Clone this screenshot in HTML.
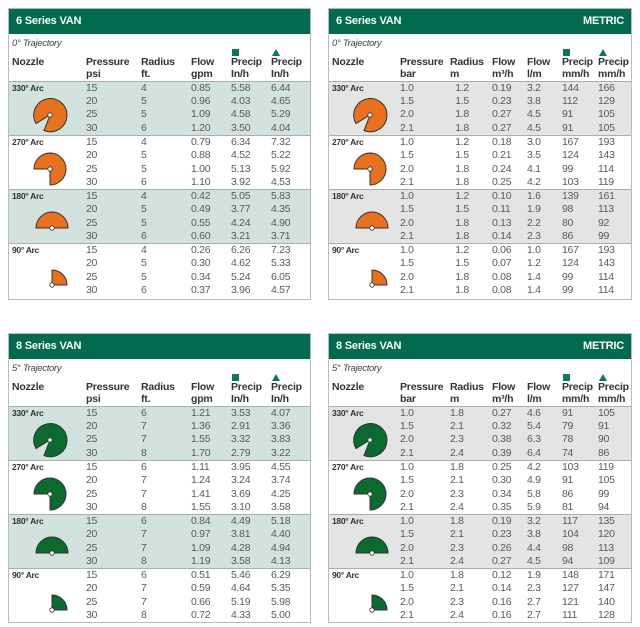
<!DOCTYPE html>
<html><head><meta charset="utf-8">
<style>
*{margin:0;padding:0;box-sizing:border-box}
body{width:640px;height:627px;background:#fff;position:relative;font-family:"Liberation Sans",sans-serif;overflow:hidden}
.p{position:absolute;border:1px solid #b9bcbc;background:#fff}
.hd{height:25px;background:#006b4f;color:#fff;font-weight:bold;font-size:11px;line-height:25px;padding:0 7px;letter-spacing:-0.2px}
.hd span{float:right}
.tr{font-style:italic;font-size:9.5px;color:#444;padding:4px 0 0 3px;height:15px;letter-spacing:-0.3px}
table{border-collapse:collapse;width:100%;table-layout:fixed}
th{font-size:10.5px;color:#333;text-align:left;font-weight:bold;vertical-align:bottom;line-height:12px;padding-bottom:1px;letter-spacing:-0.2px;position:relative}
td{font-size:10.5px;color:#5a5a5a;height:13.55px;line-height:13px;padding:0;vertical-align:middle;letter-spacing:-0.3px}
td.nz{vertical-align:top;font-size:8.5px;font-weight:bold;color:#333;padding-left:3px;position:relative}
td.nz svg{position:absolute}
tr.s td{background:#d2e3df}
.m tr.s td{background:#e3e5e5}
tbody.g tr:first-child td{border-top:1px solid #a9b0ae}
th.n{padding-left:3px;padding-bottom:13px}
.sq{position:absolute;left:1px;top:0;width:7px;height:7px;background:#0a7a52}
.tri{position:absolute;left:1px;top:0;width:0;height:0;border-left:4px solid transparent;border-right:4px solid transparent;border-bottom:7px solid #0a7a52}
</style></head><body>

<!-- Top left -->
<div class="p" style="left:8px;top:8px;width:303px;height:292px">
<div class="hd">6 Series VAN</div>
<div class="tr">0° Trajectory</div>
<table>
<colgroup><col style="width:77px"><col style="width:55px"><col style="width:50px"><col style="width:40px"><col style="width:40px"><col></colgroup>
<thead><tr style="height:32px"><th class="n">Nozzle</th><th>Pressure<br>psi</th><th>Radius<br>ft.</th><th>Flow<br>gpm</th><th><span class="sq"></span>Precip<br>In/h</th><th><span class="tri"></span>Precip<br>In/h</th></tr></thead>
<tbody class="g"><tr class="s"><td class="nz" rowspan="4">330° Arc<svg style="left:23px;top:15px" width="36" height="36" viewBox="-18 -18 36 36"><path d="M0 0 L-6 15.5 A16.6 16.6 0 1 0 -14 8.5 Z" fill="#e8711f" stroke="#333" stroke-width="1"/><circle r="2.2" fill="#fff" stroke="#333" stroke-width=".8"/></svg></td><td>15</td><td>4</td><td>0.85</td><td>5.58</td><td>6.44</td></tr>
<tr class="s"><td>20</td><td>5</td><td>0.96</td><td>4.03</td><td>4.65</td></tr>
<tr class="s"><td>25</td><td>5</td><td>1.09</td><td>4.58</td><td>5.29</td></tr>
<tr class="s"><td>30</td><td>6</td><td>1.20</td><td>3.50</td><td>4.04</td></tr></tbody>
<tbody class="g"><tr><td class="nz" rowspan="4">270° Arc<svg style="left:23px;top:15px" width="36" height="36" viewBox="-18 -18 36 36"><path d="M0 0 L0 16 A16 16 0 1 0 -16 0 Z" fill="#e8711f" stroke="#333" stroke-width="1"/><circle r="2.2" fill="#fff" stroke="#333" stroke-width=".8"/></svg></td><td>15</td><td>4</td><td>0.79</td><td>6.34</td><td>7.32</td></tr>
<tr><td>20</td><td>5</td><td>0.88</td><td>4.52</td><td>5.22</td></tr>
<tr><td>25</td><td>5</td><td>1.00</td><td>5.13</td><td>5.92</td></tr>
<tr><td>30</td><td>6</td><td>1.10</td><td>3.92</td><td>4.53</td></tr></tbody>
<tbody class="g"><tr class="s"><td class="nz" rowspan="4">180° Arc<svg style="left:25px;top:20px" width="36" height="22" viewBox="-18 -18 36 22"><path d="M-16 0 A16 16 0 0 1 16 0 Z" fill="#e8711f" stroke="#333" stroke-width="1"/><circle r="2.2" fill="#fff" stroke="#333" stroke-width=".8"/></svg></td><td>15</td><td>4</td><td>0.42</td><td>5.05</td><td>5.83</td></tr>
<tr class="s"><td>20</td><td>5</td><td>0.49</td><td>3.77</td><td>4.35</td></tr>
<tr class="s"><td>25</td><td>5</td><td>0.55</td><td>4.24</td><td>4.90</td></tr>
<tr class="s"><td>30</td><td>6</td><td>0.60</td><td>3.21</td><td>3.71</td></tr></tbody>
<tbody class="g"><tr><td class="nz" rowspan="4">90° Arc<svg style="left:40px;top:24px" width="22" height="22" viewBox="-3 -17 22 22"><path d="M0 0 L0 -15 A15 15 0 0 1 15 0 Z" fill="#e8711f" stroke="#333" stroke-width="1"/><circle r="2.2" fill="#fff" stroke="#333" stroke-width=".8"/></svg></td><td>15</td><td>4</td><td>0.26</td><td>6.26</td><td>7.23</td></tr>
<tr><td>20</td><td>5</td><td>0.30</td><td>4.62</td><td>5.33</td></tr>
<tr><td>25</td><td>5</td><td>0.34</td><td>5.24</td><td>6.05</td></tr>
<tr><td>30</td><td>6</td><td>0.37</td><td>3.96</td><td>4.57</td></tr></tbody>
</table></div>

<!-- Top right -->
<div class="p m" style="left:328px;top:8px;width:304px;height:292px">
<div class="hd">6 Series VAN<span>METRIC</span></div>
<div class="tr">0° Trajectory</div>
<table>
<colgroup><col style="width:71px"><col style="width:50px"><col style="width:42px"><col style="width:35px"><col style="width:35px"><col style="width:36px"><col></colgroup>
<thead><tr style="height:32px"><th class="n">Nozzle</th><th>Pressure<br>bar</th><th>Radius<br>m</th><th>Flow<br>m³/h</th><th>Flow<br>l/m</th><th><span class="sq"></span>Precip<br>mm/h</th><th><span class="tri"></span>Precip<br>mm/h</th></tr></thead>
<tbody class="g"><tr class="s"><td class="nz" rowspan="4">330° Arc<svg style="left:23px;top:15px" width="36" height="36" viewBox="-18 -18 36 36"><path d="M0 0 L-6 15.5 A16.6 16.6 0 1 0 -14 8.5 Z" fill="#e8711f" stroke="#333" stroke-width="1"/><circle r="2.2" fill="#fff" stroke="#333" stroke-width=".8"/></svg></td><td>1.0</td><td>&nbsp;&nbsp;1.2</td><td>0.19</td><td>3.2</td><td>144</td><td>166</td></tr>
<tr class="s"><td>1.5</td><td>&nbsp;&nbsp;1.5</td><td>0.23</td><td>3.8</td><td>112</td><td>129</td></tr>
<tr class="s"><td>2.0</td><td>&nbsp;&nbsp;1.8</td><td>0.27</td><td>4.5</td><td>91</td><td>105</td></tr>
<tr class="s"><td>2.1</td><td>&nbsp;&nbsp;1.8</td><td>0.27</td><td>4.5</td><td>91</td><td>105</td></tr></tbody>
<tbody class="g"><tr><td class="nz" rowspan="4">270° Arc<svg style="left:23px;top:15px" width="36" height="36" viewBox="-18 -18 36 36"><path d="M0 0 L0 16 A16 16 0 1 0 -16 0 Z" fill="#e8711f" stroke="#333" stroke-width="1"/><circle r="2.2" fill="#fff" stroke="#333" stroke-width=".8"/></svg></td><td>1.0</td><td>&nbsp;&nbsp;1.2</td><td>0.18</td><td>3.0</td><td>167</td><td>193</td></tr>
<tr><td>1.5</td><td>&nbsp;&nbsp;1.5</td><td>0.21</td><td>3.5</td><td>124</td><td>143</td></tr>
<tr><td>2.0</td><td>&nbsp;&nbsp;1.8</td><td>0.24</td><td>4.1</td><td>99</td><td>114</td></tr>
<tr><td>2.1</td><td>&nbsp;&nbsp;1.8</td><td>0.25</td><td>4.2</td><td>103</td><td>119</td></tr></tbody>
<tbody class="g"><tr class="s"><td class="nz" rowspan="4">180° Arc<svg style="left:25px;top:20px" width="36" height="22" viewBox="-18 -18 36 22"><path d="M-16 0 A16 16 0 0 1 16 0 Z" fill="#e8711f" stroke="#333" stroke-width="1"/><circle r="2.2" fill="#fff" stroke="#333" stroke-width=".8"/></svg></td><td>1.0</td><td>&nbsp;&nbsp;1.2</td><td>0.10</td><td>1.6</td><td>139</td><td>161</td></tr>
<tr class="s"><td>1.5</td><td>&nbsp;&nbsp;1.5</td><td>0.11</td><td>1.9</td><td>98</td><td>113</td></tr>
<tr class="s"><td>2.0</td><td>&nbsp;&nbsp;1.8</td><td>0.13</td><td>2.2</td><td>80</td><td>92</td></tr>
<tr class="s"><td>2.1</td><td>&nbsp;&nbsp;1.8</td><td>0.14</td><td>2.3</td><td>86</td><td>99</td></tr></tbody>
<tbody class="g"><tr><td class="nz" rowspan="4">90° Arc<svg style="left:40px;top:24px" width="22" height="22" viewBox="-3 -17 22 22"><path d="M0 0 L0 -15 A15 15 0 0 1 15 0 Z" fill="#e8711f" stroke="#333" stroke-width="1"/><circle r="2.2" fill="#fff" stroke="#333" stroke-width=".8"/></svg></td><td>1.0</td><td>&nbsp;&nbsp;1.2</td><td>0.06</td><td>1.0</td><td>167</td><td>193</td></tr>
<tr><td>1.5</td><td>&nbsp;&nbsp;1.5</td><td>0.07</td><td>1.2</td><td>124</td><td>143</td></tr>
<tr><td>2.0</td><td>&nbsp;&nbsp;1.8</td><td>0.08</td><td>1.4</td><td>99</td><td>114</td></tr>
<tr><td>2.1</td><td>&nbsp;&nbsp;1.8</td><td>0.08</td><td>1.4</td><td>99</td><td>114</td></tr></tbody>
</table></div>

<!-- Bottom left -->
<div class="p" style="left:8px;top:333px;width:303px;height:290px">
<div class="hd">8 Series VAN</div>
<div class="tr">5° Trajectory</div>
<table>
<colgroup><col style="width:77px"><col style="width:55px"><col style="width:50px"><col style="width:40px"><col style="width:40px"><col></colgroup>
<thead><tr style="height:32px"><th class="n">Nozzle</th><th>Pressure<br>psi</th><th>Radius<br>ft.</th><th>Flow<br>gpm</th><th><span class="sq"></span>Precip<br>In/h</th><th><span class="tri"></span>Precip<br>In/h</th></tr></thead>
<tbody class="g"><tr class="s"><td class="nz" rowspan="4">330° Arc<svg style="left:23px;top:15px" width="36" height="36" viewBox="-18 -18 36 36"><path d="M0 0 L-6 15.5 A16.6 16.6 0 1 0 -14 8.5 Z" fill="#0b6b2e" stroke="#333" stroke-width="1"/><circle r="2.2" fill="#fff" stroke="#333" stroke-width=".8"/></svg></td><td>15</td><td>6</td><td>1.21</td><td>3.53</td><td>4.07</td></tr>
<tr class="s"><td>20</td><td>7</td><td>1.36</td><td>2.91</td><td>3.36</td></tr>
<tr class="s"><td>25</td><td>7</td><td>1.55</td><td>3.32</td><td>3.83</td></tr>
<tr class="s"><td>30</td><td>8</td><td>1.70</td><td>2.79</td><td>3.22</td></tr></tbody>
<tbody class="g"><tr><td class="nz" rowspan="4">270° Arc<svg style="left:23px;top:15px" width="36" height="36" viewBox="-18 -18 36 36"><path d="M0 0 L0 16 A16 16 0 1 0 -16 0 Z" fill="#0b6b2e" stroke="#333" stroke-width="1"/><circle r="2.2" fill="#fff" stroke="#333" stroke-width=".8"/></svg></td><td>15</td><td>6</td><td>1.11</td><td>3.95</td><td>4.55</td></tr>
<tr><td>20</td><td>7</td><td>1.24</td><td>3.24</td><td>3.74</td></tr>
<tr><td>25</td><td>7</td><td>1.41</td><td>3.69</td><td>4.25</td></tr>
<tr><td>30</td><td>8</td><td>1.55</td><td>3.10</td><td>3.58</td></tr></tbody>
<tbody class="g"><tr class="s"><td class="nz" rowspan="4">180° Arc<svg style="left:25px;top:20px" width="36" height="22" viewBox="-18 -18 36 22"><path d="M-16 0 A16 16 0 0 1 16 0 Z" fill="#0b6b2e" stroke="#333" stroke-width="1"/><circle r="2.2" fill="#fff" stroke="#333" stroke-width=".8"/></svg></td><td>15</td><td>6</td><td>0.84</td><td>4.49</td><td>5.18</td></tr>
<tr class="s"><td>20</td><td>7</td><td>0.97</td><td>3.81</td><td>4.40</td></tr>
<tr class="s"><td>25</td><td>7</td><td>1.09</td><td>4.28</td><td>4.94</td></tr>
<tr class="s"><td>30</td><td>8</td><td>1.19</td><td>3.58</td><td>4.13</td></tr></tbody>
<tbody class="g"><tr><td class="nz" rowspan="4">90° Arc<svg style="left:40px;top:24px" width="22" height="22" viewBox="-3 -17 22 22"><path d="M0 0 L0 -15 A15 15 0 0 1 15 0 Z" fill="#0b6b2e" stroke="#333" stroke-width="1"/><circle r="2.2" fill="#fff" stroke="#333" stroke-width=".8"/></svg></td><td>15</td><td>6</td><td>0.51</td><td>5.46</td><td>6.29</td></tr>
<tr><td>20</td><td>7</td><td>0.59</td><td>4.64</td><td>5.35</td></tr>
<tr><td>25</td><td>7</td><td>0.66</td><td>5.19</td><td>5.98</td></tr>
<tr><td>30</td><td>8</td><td>0.72</td><td>4.33</td><td>5.00</td></tr></tbody>
</table></div>

<!-- Bottom right -->
<div class="p m" style="left:328px;top:333px;width:304px;height:290px">
<div class="hd">8 Series VAN<span>METRIC</span></div>
<div class="tr">5° Trajectory</div>
<table>
<colgroup><col style="width:71px"><col style="width:50px"><col style="width:42px"><col style="width:35px"><col style="width:35px"><col style="width:36px"><col></colgroup>
<thead><tr style="height:32px"><th class="n">Nozzle</th><th>Pressure<br>bar</th><th>Radius<br>m</th><th>Flow<br>m³/h</th><th>Flow<br>l/m</th><th><span class="sq"></span>Precip<br>mm/h</th><th><span class="tri"></span>Precip<br>mm/h</th></tr></thead>
<tbody class="g"><tr class="s"><td class="nz" rowspan="4">330° Arc<svg style="left:23px;top:15px" width="36" height="36" viewBox="-18 -18 36 36"><path d="M0 0 L-6 15.5 A16.6 16.6 0 1 0 -14 8.5 Z" fill="#0b6b2e" stroke="#333" stroke-width="1"/><circle r="2.2" fill="#fff" stroke="#333" stroke-width=".8"/></svg></td><td>1.0</td><td>1.8</td><td>0.27</td><td>4.6</td><td>91</td><td>105</td></tr>
<tr class="s"><td>1.5</td><td>2.1</td><td>0.32</td><td>5.4</td><td>79</td><td>91</td></tr>
<tr class="s"><td>2.0</td><td>2.3</td><td>0.38</td><td>6.3</td><td>78</td><td>90</td></tr>
<tr class="s"><td>2.1</td><td>2.4</td><td>0.39</td><td>6.4</td><td>74</td><td>86</td></tr></tbody>
<tbody class="g"><tr><td class="nz" rowspan="4">270° Arc<svg style="left:23px;top:15px" width="36" height="36" viewBox="-18 -18 36 36"><path d="M0 0 L0 16 A16 16 0 1 0 -16 0 Z" fill="#0b6b2e" stroke="#333" stroke-width="1"/><circle r="2.2" fill="#fff" stroke="#333" stroke-width=".8"/></svg></td><td>1.0</td><td>1.8</td><td>0.25</td><td>4.2</td><td>103</td><td>119</td></tr>
<tr><td>1.5</td><td>2.1</td><td>0.30</td><td>4.9</td><td>91</td><td>105</td></tr>
<tr><td>2.0</td><td>2.3</td><td>0.34</td><td>5.8</td><td>86</td><td>99</td></tr>
<tr><td>2.1</td><td>2.4</td><td>0.35</td><td>5.9</td><td>81</td><td>94</td></tr></tbody>
<tbody class="g"><tr class="s"><td class="nz" rowspan="4">180° Arc<svg style="left:25px;top:20px" width="36" height="22" viewBox="-18 -18 36 22"><path d="M-16 0 A16 16 0 0 1 16 0 Z" fill="#0b6b2e" stroke="#333" stroke-width="1"/><circle r="2.2" fill="#fff" stroke="#333" stroke-width=".8"/></svg></td><td>1.0</td><td>1.8</td><td>0.19</td><td>3.2</td><td>117</td><td>135</td></tr>
<tr class="s"><td>1.5</td><td>2.1</td><td>0.23</td><td>3.8</td><td>104</td><td>120</td></tr>
<tr class="s"><td>2.0</td><td>2.3</td><td>0.26</td><td>4.4</td><td>98</td><td>113</td></tr>
<tr class="s"><td>2.1</td><td>2.4</td><td>0.27</td><td>4.5</td><td>94</td><td>109</td></tr></tbody>
<tbody class="g"><tr><td class="nz" rowspan="4">90° Arc<svg style="left:40px;top:24px" width="22" height="22" viewBox="-3 -17 22 22"><path d="M0 0 L0 -15 A15 15 0 0 1 15 0 Z" fill="#0b6b2e" stroke="#333" stroke-width="1"/><circle r="2.2" fill="#fff" stroke="#333" stroke-width=".8"/></svg></td><td>1.0</td><td>1.8</td><td>0.12</td><td>1.9</td><td>148</td><td>171</td></tr>
<tr><td>1.5</td><td>2.1</td><td>0.14</td><td>2.3</td><td>127</td><td>147</td></tr>
<tr><td>2.0</td><td>2.3</td><td>0.16</td><td>2.7</td><td>121</td><td>140</td></tr>
<tr><td>2.1</td><td>2.4</td><td>0.16</td><td>2.7</td><td>111</td><td>128</td></tr></tbody>
</table></div>

</body></html>
